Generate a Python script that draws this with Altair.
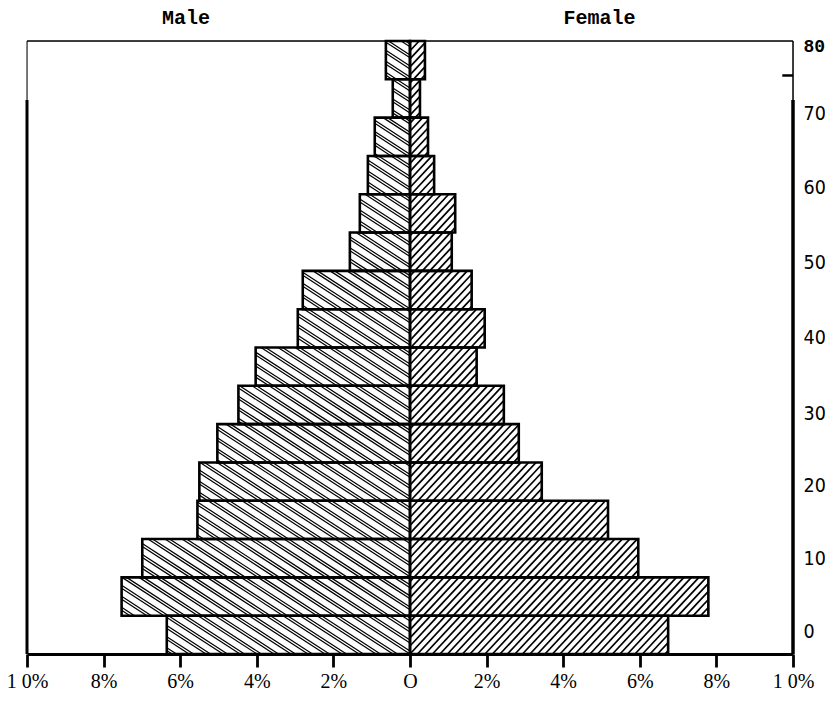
import altair as alt
import numpy as np
import pandas as pd

# ---------------- data ----------------
age_start = [0, 5, 10, 15, 20, 25, 30, 35, 40, 45, 50, 55, 60, 65, 70, 75]
male_pct = [6.35, 7.53, 6.99, 5.55, 5.50, 5.03, 4.48, 4.03, 2.93, 2.80,
            1.57, 1.31, 1.10, 0.92, 0.45, 0.63]
female_pct = [6.74, 7.79, 5.96, 5.17, 3.44, 2.84, 2.45, 1.74, 1.95, 1.61,
              1.09, 1.18, 0.63, 0.47, 0.26, 0.39]
x_tick_values = list(range(-10, 11))
y_tick_values = [0, 10, 20, 30, 40, 50, 60, 70, 80]
side_titles = ["Male", "Female"]

# ---------------- layout ----------------
W, H = 766, 613
X_DOM = [-10, 10]
Y_DOM = [0, 80]
KX = W / (X_DOM[1] - X_DOM[0])
KY = H / (Y_DOM[1] - Y_DOM[0])

rows = []
for a, m, f in zip(age_start, male_pct, female_pct):
    rows.append({"side": "Male", "v": -m, "zero": 0.0, "a0": a, "a1": a + 5})
    rows.append({"side": "Female", "v": f, "zero": 0.0, "a0": a, "a1": a + 5})
bars_df = pd.DataFrame(rows)


def hatch(xa, xb, ya, yb, sign, angle_deg, period, offsets):
    """Diagonal hatch segments clipped to one bar (computed from the bar's values)."""
    t = np.tan(np.radians(angle_deg))
    st = sign * t
    X0, X1 = sorted([xa * KX, xb * KX])
    Y0, Y1 = ya * KY, yb * KY
    cs = [Y - st * X for X in (X0, X1) for Y in (Y0, Y1)]
    cmin, cmax = min(cs), max(cs)
    cp = t * period
    segs = []
    for off in offsets:
        k0 = int(np.floor(cmin / cp)) - 2
        k1 = int(np.ceil(cmax / cp)) + 2
        for k in range(k0, k1 + 1):
            c = k * cp - st * off
            xs = sorted([(Y0 - c) / st, (Y1 - c) / st])
            lo = max(xs[0], X0)
            hi = min(xs[1], X1)
            if hi - lo > 0.4:
                segs.append({"hx": lo / KX, "hy": (c + st * lo) / KY,
                             "hx2": hi / KX, "hy2": (c + st * hi) / KY})
    return segs


male_h, female_h = [], []
for r in rows:
    if r["side"] == "Male":
        male_h += hatch(r["v"], 0, r["a0"], r["a1"], -1, 33, 17, [0, 4.5])
    else:
        female_h += hatch(0, r["v"], r["a0"], r["a1"], 1, 47, 7.5, [0])
male_df = pd.DataFrame(male_h)
female_df = pd.DataFrame(female_h)

xs = alt.Scale(domain=X_DOM, nice=False, zero=False)
ys = alt.Scale(domain=Y_DOM, nice=False, zero=False)

label_expr = ("datum.value == 0 ? 'O' : (abs(datum.value) == 10 ? '1 0%' : "
              "(abs(datum.value) % 2 == 0 ? abs(datum.value) + '%' : ''))")

x_axis = alt.Axis(values=x_tick_values, labelExpr=label_expr, grid=False,
                  domainColor="black", domainWidth=3, tickColor="black",
                  tickWidth={"condition": {"test": "datum.value % 2 == 0", "value": 2.8}, "value": 2.2},
                  tickSize={"condition": {"test": "datum.value % 2 == 0", "value": 13}, "value": 8},
                  labelFont="Liberation Serif",
                  labelFontSize=20, labelColor="black", labelPadding=4,
                  labelFlush=False, labelOverlap=False, title=None)

y_offsets = [
    {"test": "datum.value == 0", "value": -23},
    {"test": "datum.value == 10", "value": -19},
    {"test": "datum.value == 20", "value": -15},
    {"test": "datum.value == 30", "value": -11},
    {"test": "datum.value == 40", "value": -10},
    {"test": "datum.value == 50", "value": -8},
    {"test": "datum.value == 60", "value": -7},
    {"test": "datum.value == 70", "value": -4},
    {"test": "datum.value == 80", "value": 5},
]
y_axis = alt.Axis(orient="right", values=y_tick_values, grid=False, domain=False,
                  ticks=False, labelColor="black", labelFlush=False, labelOverlap=False,
                  labelPadding=10,
                  labelFontSize={"condition": {"test": "datum.value == 80", "value": 18}, "value": 19.5},
                  labelFont={"condition": {"test": "datum.value == 80", "value": "Liberation Mono"},
                             "value": "Liberation Sans Narrow, DejaVu Sans Condensed, Roboto, sans-serif"},
                  labelFontWeight={"condition": {"test": "datum.value == 80", "value": "bold"}, "value": "normal"},
                  labelOffset={"condition": y_offsets, "value": 0},
                  title=None)

male_hatch = alt.Chart(male_df).mark_rule(color="black", strokeWidth=1.2).encode(
    x=alt.X("hx:Q", scale=xs, axis=x_axis),
    x2="hx2:Q",
    y=alt.Y("hy:Q", scale=ys, axis=y_axis),
    y2="hy2:Q",
)
female_hatch = alt.Chart(female_df).mark_rule(color="black", strokeWidth=1.7).encode(
    x=alt.X("hx:Q", scale=xs), x2="hx2:Q",
    y=alt.Y("hy:Q", scale=ys), y2="hy2:Q",
)

bars = alt.Chart(bars_df).mark_rect(fillOpacity=0, stroke="black", strokeWidth=2.6).encode(
    x=alt.X("v:Q", scale=xs), x2="zero:Q",
    y=alt.Y("a0:Q", scale=ys), y2="a1:Q",
)

# frame lines (plot border)
frame_df = pd.DataFrame([
    {"fx": X_DOM[0], "fx2": X_DOM[0], "fy": 0, "fy2": 72.3, "w": 3.0},
    {"fx": X_DOM[1], "fx2": X_DOM[1], "fy": 0, "fy2": 72.3, "w": 3.5},
    {"fx": X_DOM[0], "fx2": X_DOM[0], "fy": 72.3, "fy2": 80, "w": 1.0},
    {"fx": X_DOM[1], "fx2": X_DOM[1], "fy": 72.3, "fy2": 80, "w": 1.5},
    {"fx": X_DOM[0], "fx2": X_DOM[1], "fy": 80, "fy2": 80, "w": 1.3},
    {"fx": 9.72, "fx2": X_DOM[1], "fy": 75.5, "fy2": 75.5, "w": 2.5},
])
frame = alt.Chart(frame_df).mark_rule(color="black").encode(
    x=alt.X("fx:Q", scale=xs), x2="fx2:Q",
    y=alt.Y("fy:Q", scale=ys), y2="fy2:Q",
    strokeWidth=alt.StrokeWidth("w:Q", scale=None, legend=None),
)

titles_df = pd.DataFrame({"label": side_titles, "tx": [-5.85, 4.95]})
titles = alt.Chart(titles_df).mark_text(font="Liberation Mono", fontWeight="bold",
                                         fontSize=20, color="black", baseline="middle").encode(
    x=alt.X("tx:Q", scale=xs),
    y=alt.value(-23),
    text="label:N",
)

chart = alt.layer(male_hatch, female_hatch, bars, frame, titles).properties(
    width=W, height=H,
    autosize=alt.AutoSizeParams(type="none"),
    padding={"left": 19, "top": 33, "right": 32, "bottom": 40},
).configure_view(stroke=None).configure(background="white")

chart.save("out.html", embed_options={"renderer": "svg", "actions": False})
